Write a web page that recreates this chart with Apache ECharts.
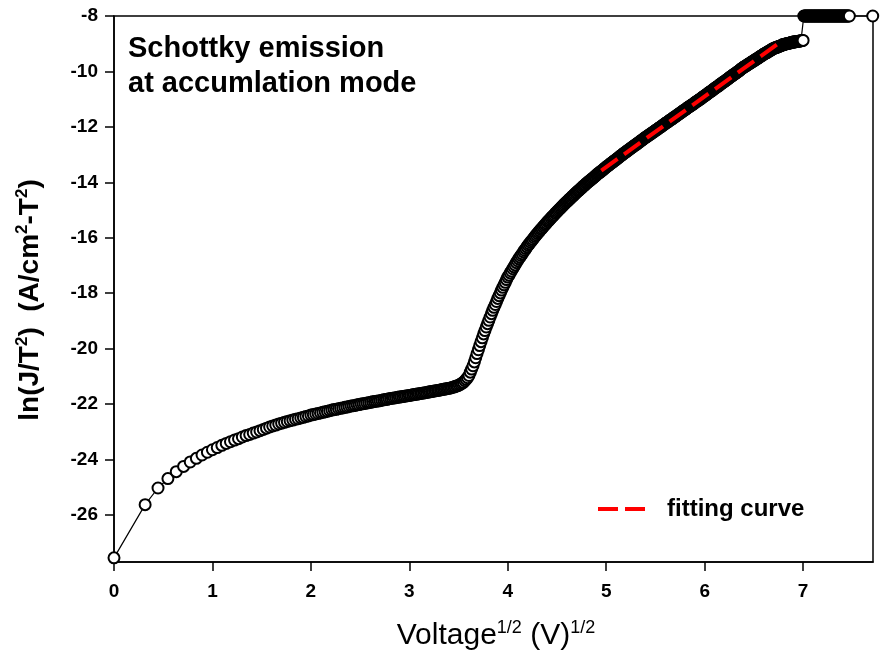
<!DOCTYPE html>
<html>
<head>
<meta charset="utf-8">
<script src="https://cdn.jsdelivr.net/npm/echarts@6/dist/echarts.min.js"></script>
<style>
  html, body { margin: 0; padding: 0; background: #ffffff; }
  #chart { width: 880px; height: 664px; }
</style>
</head>
<body>
<div id="chart"></div>
<script>
// Voltage sweep step of the I-V measurement (V); point i was taken at i * VOLT_STEP volts.
const VOLT_STEP = 0.1;

// ln(J/T^2) for each sweep step, one row per volt (x.0 ... x.9 V).
const lnJT2 = [
  -27.55, -25.63, -25.03, -24.69, -24.44, -24.25, -24.09, -23.96, -23.84, -23.74,
  -23.65, -23.57, -23.49, -23.42, -23.36, -23.30, -23.25, -23.19, -23.14, -23.10,
  -23.05, -23.01, -22.96, -22.92, -22.87, -22.83, -22.79, -22.76, -22.72, -22.69,
  -22.66, -22.63, -22.60, -22.58, -22.55, -22.53, -22.50, -22.48, -22.45, -22.43,
  -22.40, -22.38, -22.36, -22.34, -22.32, -22.30, -22.28, -22.26, -22.24, -22.22,
  -22.20, -22.19, -22.17, -22.15, -22.14, -22.12, -22.11, -22.09, -22.07, -22.06,
  -22.05, -22.03, -22.02, -22.00, -21.99, -21.98, -21.96, -21.95, -21.94, -21.92,
  -21.91, -21.90, -21.89, -21.88, -21.86, -21.85, -21.84, -21.83, -21.81, -21.80,
  -21.79, -21.78, -21.77, -21.76, -21.75, -21.74, -21.73, -21.72, -21.71, -21.70,
  -21.69, -21.68, -21.67, -21.66, -21.65, -21.64, -21.63, -21.62, -21.61, -21.60,
  -21.59, -21.58, -21.57, -21.56, -21.55, -21.54, -21.53, -21.52, -21.51, -21.50,
  -21.49, -21.48, -21.47, -21.46, -21.45, -21.44, -21.43, -21.42, -21.40, -21.39,
  -21.37, -21.35, -21.34, -21.31, -21.28, -21.25, -21.22, -21.16, -21.11, -21.05,
  -20.97, -20.85, -20.74, -20.62, -20.48, -20.33, -20.18, -20.04, -19.89, -19.75,
  -19.61, -19.47, -19.35, -19.22, -19.10, -18.98, -18.86, -18.74, -18.62, -18.51,
  -18.41, -18.30, -18.19, -18.09, -17.99, -17.89, -17.79, -17.70, -17.61, -17.51,
  -17.42, -17.35, -17.27, -17.20, -17.12, -17.05, -16.98, -16.90, -16.83, -16.76,
  -16.70, -16.64, -16.58, -16.51, -16.45, -16.39, -16.33, -16.27, -16.22, -16.16,
  -16.11, -16.06, -16.00, -15.95, -15.90, -15.85, -15.80, -15.75, -15.70, -15.66,
  -15.61, -15.56, -15.52, -15.47, -15.42, -15.38, -15.34, -15.29, -15.25, -15.21,
  -15.17, -15.12, -15.08, -15.04, -15.00, -14.96, -14.92, -14.88, -14.84, -14.80,
  -14.76, -14.72, -14.69, -14.65, -14.61, -14.58, -14.54, -14.50, -14.47, -14.43,
  -14.39, -14.36, -14.32, -14.29, -14.26, -14.22, -14.19, -14.15, -14.12, -14.09,
  -14.05, -14.02, -13.99, -13.96, -13.93, -13.90, -13.87, -13.84, -13.81, -13.78,
  -13.74, -13.71, -13.68, -13.65, -13.63, -13.60, -13.57, -13.54, -13.51, -13.48,
  -13.45, -13.42, -13.40, -13.37, -13.34, -13.31, -13.29, -13.26, -13.23, -13.21,
  -13.18, -13.15, -13.13, -13.10, -13.07, -13.04, -13.02, -12.99, -12.96, -12.94,
  -12.91, -12.89, -12.86, -12.84, -12.81, -12.79, -12.76, -12.74, -12.71, -12.69,
  -12.66, -12.64, -12.62, -12.59, -12.57, -12.54, -12.52, -12.49, -12.47, -12.44,
  -12.42, -12.39, -12.37, -12.35, -12.33, -12.30, -12.28, -12.26, -12.24, -12.21,
  -12.19, -12.17, -12.14, -12.12, -12.10, -12.08, -12.05, -12.03, -12.01, -11.99,
  -11.96, -11.94, -11.92, -11.89, -11.87, -11.85, -11.83, -11.81, -11.78, -11.76,
  -11.74, -11.72, -11.70, -11.67, -11.65, -11.63, -11.61, -11.59, -11.56, -11.54,
  -11.52, -11.50, -11.48, -11.45, -11.43, -11.41, -11.39, -11.37, -11.35, -11.32,
  -11.30, -11.28, -11.26, -11.24, -11.22, -11.20, -11.18, -11.16, -11.13, -11.11,
  -11.09, -11.07, -11.05, -11.03, -11.01, -10.99, -10.97, -10.94, -10.92, -10.90,
  -10.88, -10.86, -10.84, -10.82, -10.79, -10.77, -10.75, -10.73, -10.71, -10.69,
  -10.67, -10.64, -10.62, -10.60, -10.58, -10.56, -10.54, -10.52, -10.50, -10.47,
  -10.45, -10.43, -10.41, -10.39, -10.37, -10.35, -10.33, -10.31, -10.29, -10.27,
  -10.24, -10.22, -10.20, -10.18, -10.16, -10.14, -10.12, -10.10, -10.08, -10.06,
  -10.04, -10.02, -10.00, -9.98, -9.96, -9.93, -9.91, -9.89, -9.87, -9.85,
  -9.83, -9.82, -9.80, -9.78, -9.76, -9.74, -9.73, -9.71, -9.69, -9.67,
  -9.66, -9.64, -9.62, -9.60, -9.59, -9.57, -9.55, -9.53, -9.52, -9.50,
  -9.48, -9.46, -9.44, -9.43, -9.41, -9.39, -9.37, -9.36, -9.34, -9.33,
  -9.31, -9.30, -9.28, -9.26, -9.25, -9.23, -9.22, -9.20, -9.18, -9.17,
  -9.16, -9.15, -9.14, -9.13, -9.12, -9.11, -9.10, -9.09, -9.08, -9.07,
  -9.06, -9.04, -9.03, -9.03, -9.02, -9.01, -9.01, -9.00, -8.99, -8.99,
  -8.98, -8.97, -8.97, -8.96, -8.95, -8.95, -8.94, -8.94, -8.93, -8.93,
  -8.93, -8.92, -8.92, -8.91, -8.91, -8.90, -8.90, -8.89, -8.89, -8.88,
  -8.88, -8, -8, -8, -8, -8, -8, -8, -8, -8,
  -8, -8, -8, -8, -8, -8, -8, -8, -8, -8,
  -8, -8, -8, -8, -8, -8, -8, -8, -8, -8,
  -8, -8, -8, -8, -8, -8, -8, -8, -8, -8,
  -8, -8, -8, -8, -8, -8, -8, -8, -8, -8,
  -8, -8, -8, -8, -8, -8, -8, -8, -8, -8,
  -8, -8, -8, -8, -8, -8, -8, -8, -8
];

// Final reading of the sweep, taken after a larger voltage jump.
const tailVolts = [59.4];
const tailLnJT2 = [-8];

// Straight-line Schottky fit over the high-field part (x = V^1/2).
const fitSqrtV = [4.95, 6.77];
const fitLnJT2 = [-13.58, -8.94];

// Axis ticks.
const xTicks = [0, 1, 2, 3, 4, 5, 6, 7];
const yTicks = [-26, -24, -22, -20, -18, -16, -14, -12, -10, -8];

const measured = lnJT2.map((y, i) => [Math.sqrt(i * VOLT_STEP), y])
  .concat(tailVolts.map((v, i) => [Math.sqrt(v), tailLnJT2[i]]));
const fitted = fitSqrtV.map((x, i) => [x, fitLnJT2[i]]);

const SANS = '"Liberation Sans", Arial, sans-serif';

const chart = echarts.init(document.getElementById('chart'), null, { renderer: 'canvas' });

chart.setOption({
  animation: false,
  backgroundColor: '#ffffff',
  grid: {
    left: 114, right: 7, top: 16, bottom: 102,
    show: true, borderColor: '#000', borderWidth: 1.5, backgroundColor: 'transparent'
  },
  xAxis: {
    type: 'value', min: 0, max: 7.71,
    axisLine: { show: true, lineStyle: { color: '#000', width: 1.5 } },
    axisTick: { show: true, inside: false, length: 9, lineStyle: { color: '#000', width: 1.5 }, customValues: xTicks },
    axisLabel: {
      customValues: xTicks, margin: 20, color: '#000',
      fontFamily: SANS, fontWeight: 'bold', fontSize: 19
    },
    splitLine: { show: false }
  },
  yAxis: {
    type: 'value', min: -27.7, max: -8,
    axisLine: { show: true, lineStyle: { color: '#000', width: 1.5 } },
    axisTick: { show: true, inside: false, length: 9, lineStyle: { color: '#000', width: 1.5 }, customValues: yTicks },
    axisLabel: {
      customValues: yTicks, margin: 16, color: '#000',
      fontFamily: SANS, fontWeight: 'bold', fontSize: 19
    },
    splitLine: { show: false }
  },
  legend: {
    data: ['fitting curve'],
    left: 598, top: 497, padding: 0,
    icon: 'path://M0,0L20,0L20,4L0,4Z M27,0L47,0L47,4L27,4Z',
    itemWidth: 47, itemHeight: 4,
    selectedMode: false,
    textStyle: { color: '#000', fontFamily: SANS, fontWeight: 'bold', fontSize: 24, padding: [0, 0, 0, 17] }
  },
  series: [
    {
      name: 'measured',
      type: 'line',
      data: measured,
      clip: false,
      silent: true,
      symbol: 'circle',
      symbolSize: 11,
      itemStyle: { color: '#ffffff', borderColor: '#000000', borderWidth: 2 },
      lineStyle: { color: '#000000', width: 1.2 },
      z: 2
    },
    {
      name: 'fitting curve',
      type: 'line',
      data: fitted,
      silent: true,
      symbol: 'none',
      lineStyle: { color: '#ff0000', width: 4, type: [20, 8] },
      itemStyle: { color: '#ff0000' },
      z: 3
    }
  ],
  graphic: [
    {
      type: 'text', left: 128, top: 31, silent: true,
      style: {
        text: 'Schottky emission\nat accumlation mode',
        fill: '#000', font: 'bold 29px ' + SANS, lineHeight: 35
      }
    },
    {
      type: 'text', x: 496, y: 636, silent: true,
      style: {
        text: '{a|Voltage}{s|1/2}{a| (V)}{s|1/2}',
        align: 'center', verticalAlign: 'middle',
        rich: {
          a: { fontFamily: SANS, fontSize: 30, lineHeight: 34, fill: '#000' },
          s: { fontFamily: SANS, fontSize: 18, lineHeight: 18, verticalAlign: 'top', fill: '#000' }
        }
      }
    },
    {
      type: 'text', x: 30, y: 300, rotation: Math.PI / 2, silent: true,
      style: {
        text: '{a|ln(J/T}{s|2}{a|)  (A/cm}{s|2}{a|-T}{s|2}{a|)}',
        align: 'center', verticalAlign: 'middle',
        rich: {
          a: { fontFamily: SANS, fontWeight: 'bold', fontSize: 28, lineHeight: 32, fill: '#000' },
          s: { fontFamily: SANS, fontWeight: 'bold', fontSize: 17, lineHeight: 16, verticalAlign: 'top', fill: '#000' }
        }
      }
    }
  ]
});
</script>
</body>
</html>
